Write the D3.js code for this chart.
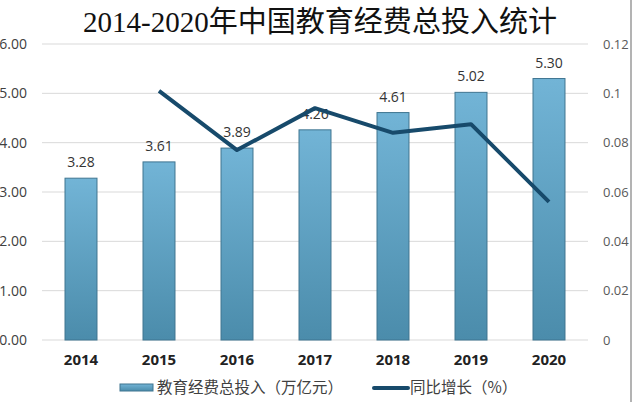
<!DOCTYPE html>
<html>
<head>
<meta charset="utf-8">
<script src="https://cdn.jsdelivr.net/npm/d3@7"></script>
<style>
  body { margin: 0; background: #fff; }
  svg { display: block; font-family: "Open Sans", "Noto Sans CJK SC", sans-serif; }
</style>
</head>
<body>
<svg></svg>
<script>
const svgWidth = 640
const svgHeight = 402

const years = ["2014", "2015", "2016", "2017", "2018", "2019", "2020"]
const investment = [3.28, 3.61, 3.89, 4.26, 4.61, 5.02, 5.30]
const growthYears = ["2015", "2016", "2017", "2018", "2019", "2020"]
const growth = [0.101, 0.077, 0.094, 0.084, 0.0875, 0.056]
const leftTicks = [0, 1, 2, 3, 4, 5, 6]
const rightTicks = [0, 0.02, 0.04, 0.06, 0.08, 0.1, 0.12]

const plot = {left: 42, right: 588, top: 44, bottom: 340}

const svg = d3.select("svg")
  .attr("width", svgWidth)
  .attr("height", svgHeight)

const defs = svg.append("defs")
const grad = defs.append("linearGradient")
  .attr("id", "barGrad")
  .attr("x1", 0).attr("y1", 0).attr("x2", 0).attr("y2", 1)
grad.append("stop").attr("offset", "0%").attr("stop-color", "#72b4d6")
grad.append("stop").attr("offset", "100%").attr("stop-color", "#4b8cab")

const xScale = d3.scaleBand()
  .domain(years)
  .range([plot.left, plot.right])
  .paddingInner(0.59)
  .paddingOuter(0.295)

const yLeft = d3.scaleLinear().domain([0, 6]).range([plot.bottom, plot.top])
const yRight = d3.scaleLinear().domain([0, 0.12]).range([plot.bottom, plot.top])

// title
svg.append("text")
  .attr("x", 83).attr("y", 32)
  .attr("textLength", 474)
  .attr("lengthAdjust", "spacingAndGlyphs")
  .style("font-family", "'Liberation Serif', 'Noto Sans CJK SC', serif")
  .style("font-size", "29px")
  .style("fill", "#111")
  .text("2014-2020年中国教育经费总投入统计")

// gridlines
svg.append("g")
  .selectAll("line")
  .data(leftTicks)
  .enter()
  .append("line")
  .attr("x1", plot.left).attr("x2", plot.right)
  .attr("y1", d => yLeft(d)).attr("y2", d => yLeft(d))
  .attr("stroke", "#d9d9d9")
  .attr("stroke-width", 1)

// left axis
const leftAxis = svg.append("g")
  .attr("transform", "translate(27,0)")
  .call(d3.axisLeft(yLeft).tickValues(leftTicks).tickSize(0).tickPadding(0).tickFormat(d3.format(".2f")))
leftAxis.select(".domain").remove()
leftAxis.selectAll("text")
  .attr("x", 0)
  .style("font-size", "14px")
  .style("fill", "#404040")
  .style("font-family", "'Open Sans', sans-serif")

// right axis
const rightAxis = svg.append("g")
  .attr("transform", "translate(603,0)")
  .call(d3.axisRight(yRight).tickValues(rightTicks).tickSize(0).tickPadding(0)
    .tickFormat(d => d === 0 ? "0" : String(+d.toFixed(2))))
rightAxis.select(".domain").remove()
rightAxis.selectAll("text")
  .attr("x", 0)
  .style("font-size", "13px")
  .style("fill", "#595959")
  .style("font-family", "'Open Sans', sans-serif")

// right frame line
svg.append("line")
  .attr("x1", 631).attr("x2", 631)
  .attr("y1", 0).attr("y2", svgHeight)
  .attr("stroke", "#9a9a9a")
  .attr("stroke-width", 1.5)

// bars
svg.append("g")
  .selectAll("rect")
  .data(investment)
  .enter()
  .append("rect")
  .attr("x", (d, i) => xScale(years[i]))
  .attr("y", d => yLeft(d))
  .attr("width", xScale.bandwidth())
  .attr("height", d => yLeft(0) - yLeft(d))
  .attr("fill", "url(#barGrad)")
  .attr("stroke", "#3f7590")
  .attr("stroke-width", 1)

// bar labels
svg.append("g")
  .selectAll("text")
  .data(investment)
  .enter()
  .append("text")
  .attr("x", (d, i) => xScale(years[i]) + xScale.bandwidth() / 2)
  .attr("y", d => yLeft(d) - 11)
  .attr("text-anchor", "middle")
  .style("font-size", "14px")
  .style("fill", "#333")
  .text(d => d.toFixed(2))

// year labels
const xAxis = svg.append("g")
  .attr("transform", `translate(0,${plot.bottom})`)
  .call(d3.axisBottom(xScale).tickSize(0).tickPadding(0))
xAxis.select(".domain").remove()
xAxis.selectAll("text")
  .attr("y", 14)
  .style("font-size", "15px")
  .style("font-weight", "bold")
  .style("fill", "#222")
  .style("font-family", "'Open Sans', sans-serif")

// growth line
const line = d3.line()
  .x((d, i) => xScale(growthYears[i]) + xScale.bandwidth() / 2)
  .y(d => yRight(d))

svg.append("path")
  .datum(growth)
  .attr("d", line)
  .attr("fill", "none")
  .attr("stroke", "#174a6b")
  .attr("stroke-width", 4)
  .attr("stroke-linejoin", "round")

// legend
const legend = svg.append("g")
legend.append("rect")
  .attr("x", 120).attr("y", 384)
  .attr("width", 33).attr("height", 7)
  .attr("fill", "url(#barGrad)")
  .attr("stroke", "#3f7590")
legend.append("text")
  .attr("x", 157).attr("y", 393)
  .style("font-size", "15.5px")
  .style("fill", "#404040")
  .style("font-family", "'Noto Sans CJK SC', sans-serif")
  .text("教育经费总投入（万亿元）")
legend.append("line")
  .attr("x1", 374).attr("x2", 408)
  .attr("y1", 388).attr("y2", 388)
  .attr("stroke", "#174a6b")
  .attr("stroke-width", 4)
  .attr("stroke-linecap", "round")
legend.append("text")
  .attr("x", 410).attr("y", 393)
  .style("font-size", "15.5px")
  .style("fill", "#404040")
  .style("font-family", "'Noto Sans CJK SC', sans-serif")
  .text("同比增长（%）")
</script>
</body>
</html>
